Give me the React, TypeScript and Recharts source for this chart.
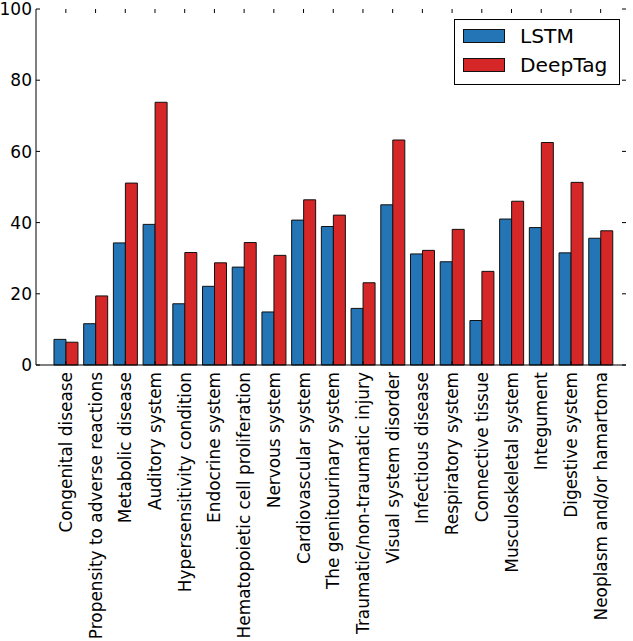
import { BarChart, Bar, XAxis, YAxis } from "recharts";

const categories = [
  "Congenital disease",
  "Propensity to adverse reactions",
  "Metabolic disease",
  "Auditory system",
  "Hypersensitivity condition",
  "Endocrine system",
  "Hematopoietic cell proliferation",
  "Nervous system",
  "Cardiovascular system",
  "The genitourinary system",
  "Traumatic/non-traumatic injury",
  "Visual system disorder",
  "Infectious disease",
  "Respiratory system",
  "Connective tissue",
  "Musculoskeletal system",
  "Integument",
  "Digestive system",
  "Neoplasm and/or hamartoma",
];
const lstm = [7.2, 11.6, 34.3, 39.5, 17.2, 22.1, 27.5, 14.9, 40.7, 38.9, 15.9, 45.0, 31.2, 29.0, 12.5, 41.0, 38.6, 31.5, 35.6];
const deeptag = [6.4, 19.4, 51.1, 73.8, 31.6, 28.7, 34.4, 30.8, 46.4, 42.1, 23.1, 63.2, 32.2, 38.1, 26.3, 46.0, 62.5, 51.3, 37.7];
const yTicks = [0, 20, 40, 60, 80, 100];

const series = [
  { key: "lstm", name: "LSTM", color: "#2475b6" },
  { key: "deeptag", name: "DeepTag", color: "#d62728" },
];

const data = categories.map((name, i) => ({ name, lstm: lstm[i], deeptag: deeptag[i] }));

const W = 633;
const H = 641;
const LEFT = 36;
const RIGHT = 626;
const TOP = 9;
const BOTTOM = 365;
const FONT = "'DejaVu Sans', sans-serif";

function YTick({ y, payload }: any) {
  return (
    <g>
      <line x1={LEFT} x2={LEFT + 4} y1={y} y2={y} stroke="#000" />
      <line x1={RIGHT} x2={RIGHT - 4} y1={y} y2={y} stroke="#000" />
      <text x={LEFT - 4} y={y} dy="0.36em" textAnchor="end" fontSize={17} fontFamily={FONT} fill="#000">
        {payload.value}
      </text>
    </g>
  );
}

function XTick({ x, payload }: any) {
  const ty = BOTTOM + 7;
  return (
    <g>
      <line x1={x} x2={x} y1={TOP} y2={TOP + 4} stroke="#000" />
      <line x1={x} x2={x} y1={BOTTOM} y2={BOTTOM - 4} stroke="#000" />
      <text
        x={x}
        y={ty}
        dy="0.36em"
        transform={`rotate(-90, ${x}, ${ty})`}
        textAnchor="end"
        fontSize={16.9}
        fontFamily={FONT}
        fill="#000"
      >
        {payload.value}
      </text>
    </g>
  );
}

export default function App() {
  return (
    <div style={{ position: "absolute", left: 0, top: 0, width: W, height: H, background: "#fff" }}>
      <BarChart
        width={W}
        height={H}
        data={data}
        margin={{ top: TOP, right: W - RIGHT, bottom: 0, left: 0 }}
        barCategoryGap="10%"
        barGap={0}
      >
        <XAxis
          dataKey="name"
          interval={0}
          height={H - BOTTOM}
          padding={{ left: 15, right: 10.5 }}
          axisLine={{ stroke: "#000" }}
          tickLine={false}
          tick={<XTick />}
        />
        <XAxis
          xAxisId="top"
          orientation="top"
          dataKey="name"
          height={0}
          padding={{ left: 15, right: 10.5 }}
          axisLine={{ stroke: "#000" }}
          tickLine={false}
          tick={false}
        />
        <YAxis
          width={LEFT}
          domain={[0, 100]}
          ticks={yTicks}
          axisLine={{ stroke: "#000" }}
          tickLine={false}
          tick={<YTick />}
        />
        <YAxis
          yAxisId="right"
          orientation="right"
          width={0}
          domain={[0, 100]}
          axisLine={{ stroke: "#000" }}
          tickLine={false}
          tick={false}
        />
        {series.map((s) => (
          <Bar
            key={s.key}
            dataKey={s.key}
            name={s.name}
            fill={s.color}
            stroke="#111"
            strokeWidth={1}
            isAnimationActive={false}
          />
        ))}
      </BarChart>
      <div
        style={{
          position: "absolute",
          left: 454,
          top: 19,
          width: 166,
          height: 66,
          boxSizing: "border-box",
          border: "1px solid #000",
          background: "#fff",
          fontFamily: FONT,
          fontSize: 20.2,
        }}
      >
        {series.map((s, i) => (
          <div key={s.key}>
            <div
              style={{
                position: "absolute",
                left: 8,
                top: 9 + i * 29,
                width: 42,
                height: 14,
                boxSizing: "border-box",
                background: s.color,
                border: "1px solid #111",
              }}
            />
            <div style={{ position: "absolute", left: 65, top: 3 + i * 29, lineHeight: "26px" }}>{s.name}</div>
          </div>
        ))}
      </div>
    </div>
  );
}
